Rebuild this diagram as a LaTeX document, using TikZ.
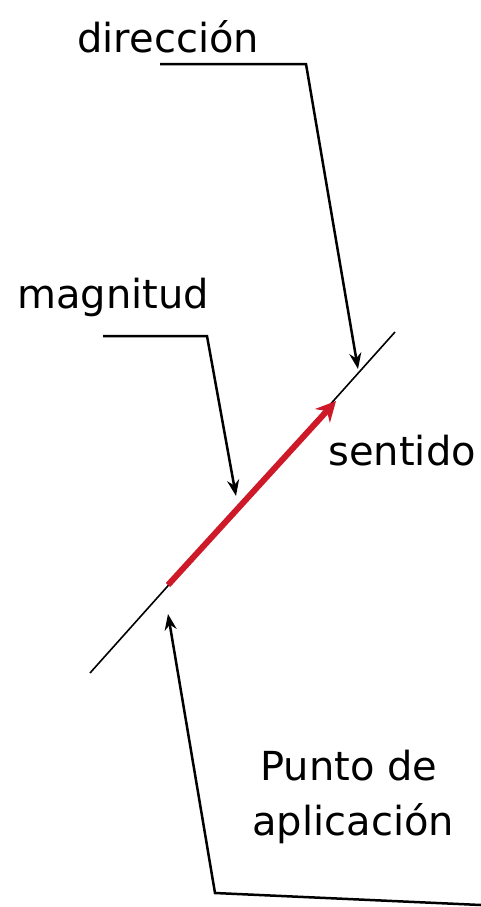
\documentclass[tikz,border=0pt]{standalone}
\usepackage{fontspec}
\setmainfont{DejaVu Sans}
\usetikzlibrary{arrows.meta}
\definecolor{vecred}{RGB}{205,25,40}
\begin{document}
\begin{tikzpicture}[x=0.5pt,y=-0.5pt,
  lbl/.style={inner sep=0pt,anchor=base west,font=\fontsize{20}{24}\selectfont},
  leader/.style={line width=1.25pt,-{Stealth[length=8pt,width=6pt]}},
  axisline/.style={line width=0.8pt},
  vec/.style={line width=3pt,vecred,-{Stealth[length=10pt,width=10pt]}}]
\useasboundingbox (0,0) rectangle (481,907);
% text labels
\node[lbl] (dir) at (77,52) {dirección};
\node[lbl] (mag) at (17,308) {magnitud};
\node[lbl] (sen) at (328,465) {sentido};
\node[lbl] (pun) at (260,780) {Punto de};
\node[lbl] (apl) at (252,835) {aplicación};
% line of action
\coordinate (la) at (90,673);
\coordinate (lb) at (395,332);
\draw[axisline] (la) -- (lb);
% vector
\coordinate (va) at (168,585);
\coordinate (vb) at (336,401);
\draw[vec] (va) -- (vb);
% leaders
\coordinate (d0) at (160,64);
\coordinate (d1) at (306,64);
\coordinate (dt) at (358,369);
\draw[leader] (d0) -- (d1) -- (dt);
\coordinate (m0) at (103,336);
\coordinate (m1) at (207,336);
\coordinate (mt) at (236,496);
\draw[leader] (m0) -- (m1) -- (mt);
\coordinate (p0) at (481,905);
\coordinate (p1) at (215,893);
\coordinate (pt) at (168,614);
\draw[leader] (p0) -- (p1) -- (pt);
\end{tikzpicture}
\end{document}
